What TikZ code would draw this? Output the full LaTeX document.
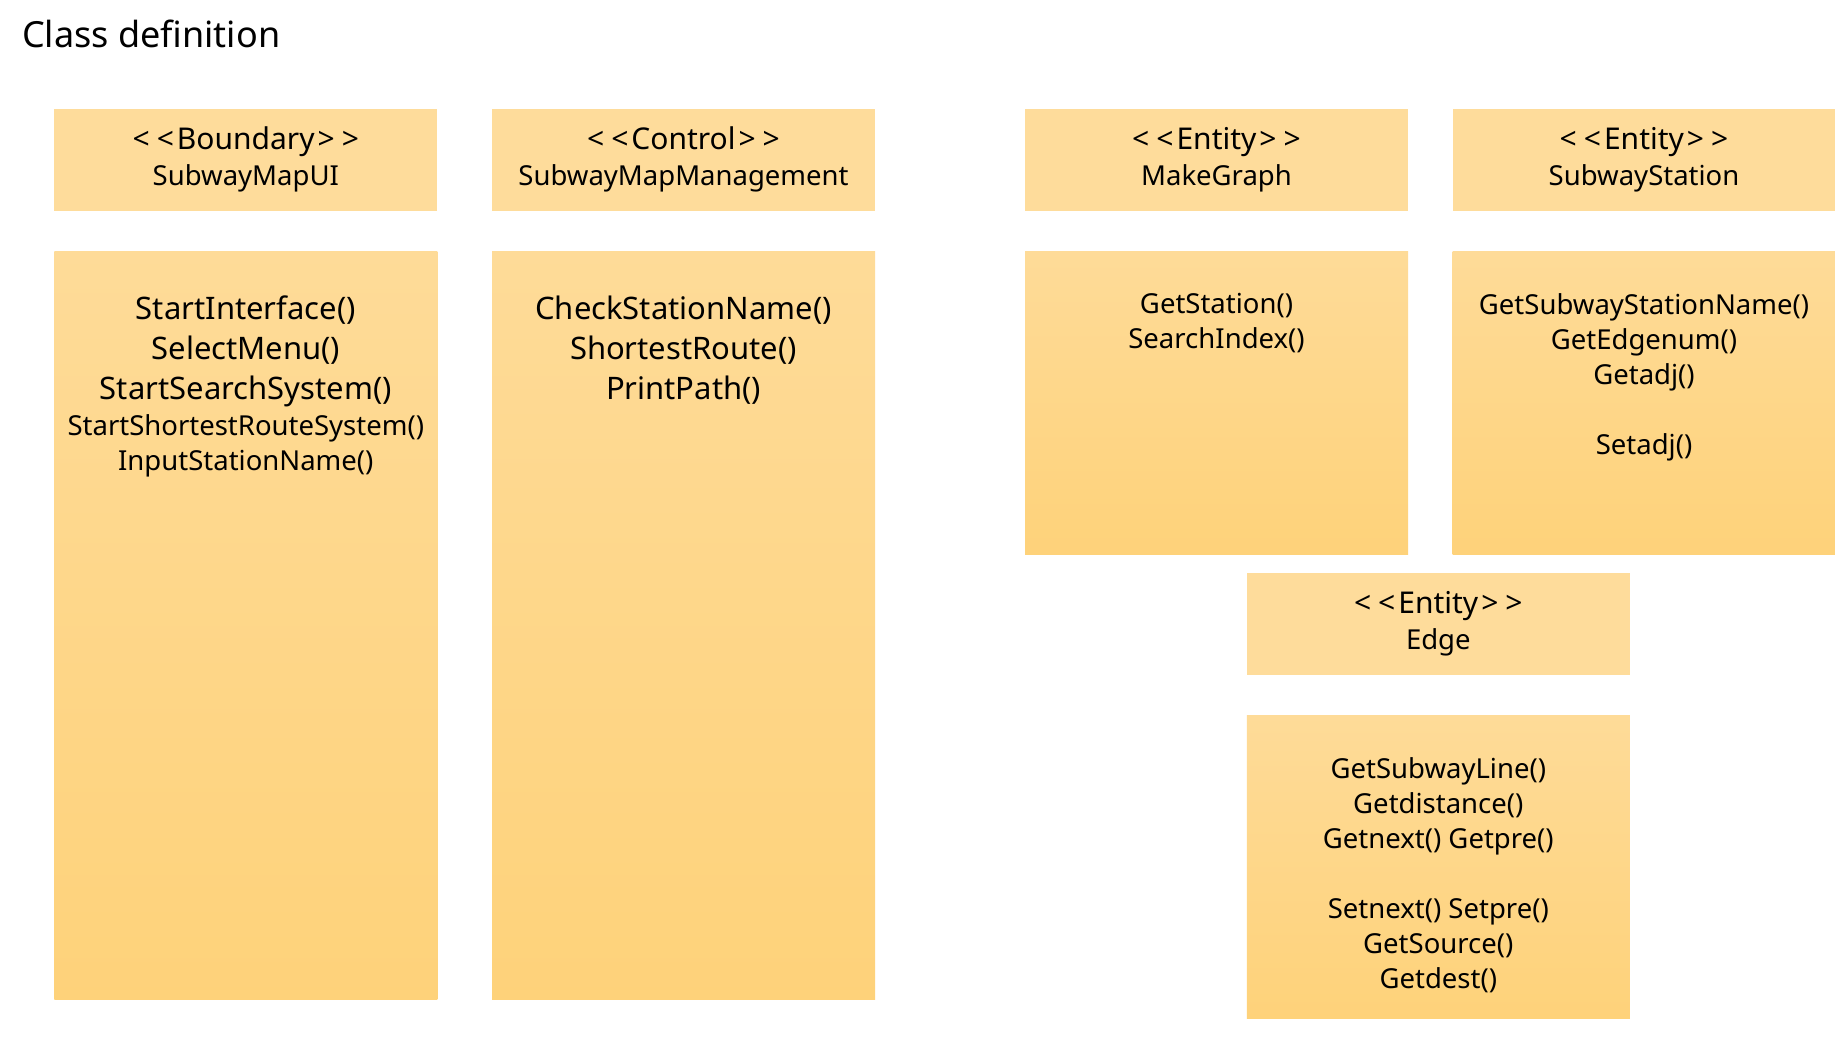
\documentclass[tikz,border=0pt]{standalone}
\usepackage{fontspec}
\setmainfont{Noto Sans}
\usetikzlibrary{positioning}
\definecolor{hdrfill}{RGB}{254,220,155}
\definecolor{opstop}{RGB}{254,219,152}
\definecolor{opsbot}{RGB}{254,210,122}
\tikzset{
  hdr/.style={fill=hdrfill, minimum width=383pt, minimum height=102pt, align=center,
    inner sep=0pt, font=\fontsize{27.5}{36}\selectfont},
  opsbox/.style={top color=opstop, bottom color=opsbot, minimum width=383pt, inner sep=0pt},
  opstext/.style={anchor=north, align=center, inner sep=0pt, font=\fontsize{27.5}{35}\selectfont},
  bigops/.style={opstext, font=\fontsize{31}{40}\selectfont}
}
\newcommand{\stereo}[1]{\fontsize{30}{36}\selectfont<\kern7pt<\kern3pt#1\kern3pt>\kern7pt>}

\begin{document}
\begin{tikzpicture}[x=1pt, y=-1pt]
\useasboundingbox (0,0) rectangle (1835,1040);
\node[anchor=base west, inner sep=0pt, font=\fontsize{36}{44}\selectfont] (title) at (22,48) {Class definition};

% boundary class
\node[hdr] (uiHead) at (245.8,159.8) {\stereo{Boundary}\\SubwayMapUI};
\node[opsbox, minimum height=748pt, below=40pt of uiHead] (uiBody) {};
\node[bigops, yshift=-45pt] (uiOps) at (uiBody.north) {StartInterface()\\SelectMenu()\\StartSearchSystem()};
\node[opstext, below=7pt of uiOps] (uiOpsMore) {StartShortestRouteSystem()\\InputStationName()};

% control class
\node[hdr] (ctlHead) at (683.5,159.8) {\stereo{Control}\\SubwayMapManagement};
\node[opsbox, minimum height=748pt, below=40pt of ctlHead] (ctlBody) {};
\node[bigops, yshift=-45pt] (ctlOps) at (ctlBody.north) {CheckStationName()\\ShortestRoute()\\PrintPath()};

% entity classes
\node[hdr] (graphHead) at (1216.5,159.8) {\stereo{Entity}\\MakeGraph};
\node[opsbox, minimum height=303pt, below=40pt of graphHead] (graphBody) {};
\node[opstext, yshift=-42pt] (graphOps) at (graphBody.north) {GetStation()\\SearchIndex()};

\node[hdr] (stnHead) at (1644,159.8) {\stereo{Entity}\\SubwayStation};
\node[opsbox, minimum height=303pt, below=40pt of stnHead] (stnBody) {};
\node[opstext, yshift=-42pt] (stnOps) at (stnBody.north) {GetSubwayStationName()\\GetEdgenum()\\Getadj()\\[35pt]Setadj()};

\node[hdr] (edgeHead) at (1438.3,624) {\stereo{Entity}\\Edge};
\node[opsbox, minimum height=303pt, below=40pt of edgeHead] (edgeBody) {};
\node[opstext, yshift=-42pt] (edgeOps) at (edgeBody.north) {GetSubwayLine()\\Getdistance()\\Getnext() Getpre()\\[35pt]Setnext() Setpre()\\GetSource()\\Getdest()};
\end{tikzpicture}
\end{document}
